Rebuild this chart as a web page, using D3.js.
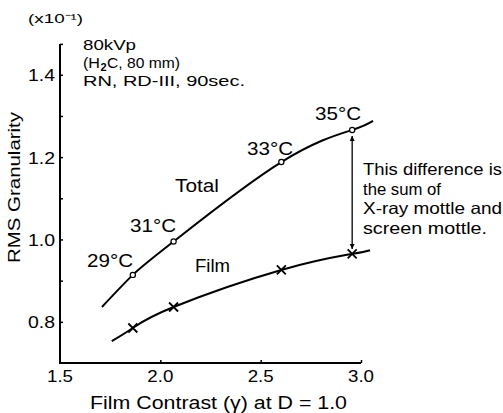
<!DOCTYPE html>
<html>
<head>
<meta charset="utf-8">
<script src="https://cdn.jsdelivr.net/npm/d3@7"></script>
<style>
  html, body { margin: 0; padding: 0; background: #fff; }
  svg { display: block; font-family: "Liberation Sans", Arial, sans-serif; }
</style>
</head>
<body>
<svg id="chart" width="503" height="413"></svg>
<script>
// Film contrast (gamma) for each development temperature
const temps = ["29°C", "31°C", "33°C", "35°C"];
const gamma = [1.863, 2.066, 2.603, 2.956];
// RMS granularity (x10^-1)
const totalRMS = [0.914, 0.995, 1.188, 1.266];
const filmRMS = [0.785, 0.836, 0.926, 0.965];
// Where the fitted curves start and end
const totalEnds = [[1.709, 0.836], [3.06, 1.288]];
const filmEnds = [[1.758, 0.753], [3.045, 0.974]];

const xTicks = [1.5, 2.0, 2.5, 3.0];
const yTicks = [0.8, 1.0, 1.2, 1.4];
const yMinor = [0.9, 1.1, 1.3];

const svg = d3.select("#chart");
const x = d3.scaleLinear().domain([1.5, 3.0]).range([60, 361]);
const y = d3.scaleLinear().domain([0.7, 1.5]).range([363, 33.6]);
const yTop = 1.475;

// stretch a text run to a set width
function fit(sel, w) {
  sel.attr("textLength", w).attr("lengthAdjust", "spacingAndGlyphs");
  return sel;
}

// axis lines
svg.append("line").attr("x1", x(1.5)).attr("x2", x(1.5))
  .attr("y1", y(0.7) + 1).attr("y2", y(yTop))
  .attr("stroke", "#000").attr("stroke-width", 2);
svg.append("line").attr("x1", x(1.5) - 1).attr("x2", x(3.0))
  .attr("y1", y(0.7)).attr("y2", y(0.7))
  .attr("stroke", "#000").attr("stroke-width", 2);

// ticks point into the plot
const yAxis = d3.axisRight(y).tickValues(yTicks.concat(yMinor, [yTop])).tickSize(3).tickFormat("");
const gy = svg.append("g").attr("transform", `translate(${x(1.5)},0)`).call(yAxis);
gy.select(".domain").remove();
gy.selectAll("line").attr("stroke-width", 1.5);

const xAxis = d3.axisTop(x).tickValues([2.0, 2.5, 3.0]).tickSize(3).tickFormat("");
const gx = svg.append("g").attr("transform", `translate(0,${y(0.7)})`).call(xAxis);
gx.select(".domain").remove();
gx.selectAll("line").attr("stroke-width", 1.5);

// tick labels
svg.append("g").selectAll("text").data(yTicks).join("text")
  .attr("x", 55).attr("y", d => y(d) + 6.5)
  .attr("text-anchor", "end").attr("font-size", 17)
  .attr("textLength", 27).attr("lengthAdjust", "spacingAndGlyphs")
  .text(d => d3.format(".1f")(d));
svg.append("g").selectAll("text").data(xTicks).join("text")
  .attr("x", d => x(d)).attr("y", 382)
  .attr("text-anchor", "middle").attr("font-size", 17)
  .attr("textLength", 26).attr("lengthAdjust", "spacingAndGlyphs")
  .text(d => d3.format(".1f")(d));

// axis titles
fit(svg.append("text").attr("x", 90).attr("y", 409).attr("font-size", 17.5)
  .text("Film Contrast (γ) at D = 1.0"), 257);
fit(svg.append("text").attr("transform", "translate(20,263) rotate(-90)")
  .attr("font-size", 16.5).text("RMS Granularity"), 151);
fit(svg.append("text").attr("x", 28).attr("y", 23).attr("font-size", 13)
  .text("(x10⁻¹)"), 55);

// exposure conditions
fit(svg.append("text").attr("x", 83).attr("y", 50).attr("font-size", 15).text("80kVp"), 53);
// phantom line: "(H", subscript "2", "C, 80 mm)" set as three runs
fit(svg.append("text").attr("x", 83).attr("y", 68).attr("font-size", 15).text("(H"), 17);
svg.append("text").attr("x", 100.5).attr("y", 71).attr("font-size", 11)
  .attr("font-weight", "bold").text("2");
fit(svg.append("text").attr("x", 107).attr("y", 68).attr("font-size", 15).text("C, 80 mm)"), 73);
fit(svg.append("text").attr("x", 83).attr("y", 86).attr("font-size", 15)
  .text("RN, RD-III, 90sec."), 162);

// curves
const line = d3.line().x(d => x(d[0])).y(d => y(d[1])).curve(d3.curveNatural);
const totalPts = [totalEnds[0]].concat(gamma.map((g, i) => [g, totalRMS[i]]), [totalEnds[1]]);
const filmPts = [filmEnds[0]].concat(gamma.map((g, i) => [g, filmRMS[i]]), [filmEnds[1]]);
svg.append("path").attr("d", line(totalPts)).attr("fill", "none")
  .attr("stroke", "#000").attr("stroke-width", 2);
svg.append("path").attr("d", line(filmPts)).attr("fill", "none")
  .attr("stroke", "#000").attr("stroke-width", 2);

// markers
svg.append("g").selectAll("circle").data(gamma).join("circle")
  .attr("cx", d => x(d)).attr("cy", (d, i) => y(totalRMS[i])).attr("r", 2.6)
  .attr("fill", "#fff").attr("stroke", "#000").attr("stroke-width", 1.2);
svg.append("g").selectAll("path").data(gamma).join("path")
  .attr("d", (d, i) => {
    const cx = x(d), cy = y(filmRMS[i]), s = 4.5;
    return `M${cx - s},${cy - s}L${cx + s},${cy + s}M${cx - s},${cy + s}L${cx + s},${cy - s}`;
  })
  .attr("stroke", "#000").attr("stroke-width", 1.8);

// temperature labels
const tempPos = [[87, 267], [130, 232], [247, 155], [315, 120]];
svg.append("g").selectAll("text").data(temps).join("text")
  .attr("x", (d, i) => tempPos[i][0]).attr("y", (d, i) => tempPos[i][1])
  .attr("font-size", 17.5)
  .attr("textLength", 46).attr("lengthAdjust", "spacingAndGlyphs")
  .text(d => d);

fit(svg.append("text").attr("x", 175).attr("y", 192).attr("font-size", 17.5).text("Total"), 44);
fit(svg.append("text").attr("x", 195).attr("y", 272).attr("font-size", 17.5).text("Film"), 35);

// difference arrow between the two curves at the highest temperature
const ax = x(gamma[3]);
svg.append("defs").append("marker").attr("id", "head")
  .attr("viewBox", "0 0 10 10").attr("refX", 10).attr("refY", 5)
  .attr("markerWidth", 5).attr("markerHeight", 7).attr("orient", "auto-start-reverse")
  .attr("markerUnits", "userSpaceOnUse")
  .append("path").attr("d", "M0,0L10,5L0,10Z").attr("fill", "#000");
svg.append("line").attr("x1", ax).attr("x2", ax)
  .attr("y1", y(totalRMS[3]) + 6).attr("y2", y(filmRMS[3]) - 5)
  .attr("stroke", "#000").attr("stroke-width", 1.3)
  .attr("marker-start", "url(#head)").attr("marker-end", "url(#head)");

const noteLines = ["This difference is", "the sum of", "X-ray mottle and", "screen mottle."];
const noteWidths = [139, 78, 139, 124];
noteLines.forEach((t, i) => {
  fit(svg.append("text").attr("x", 363).attr("y", 175 + i * 19.5)
    .attr("font-size", 16.5).text(t), noteWidths[i]);
});
</script>
</body>
</html>
